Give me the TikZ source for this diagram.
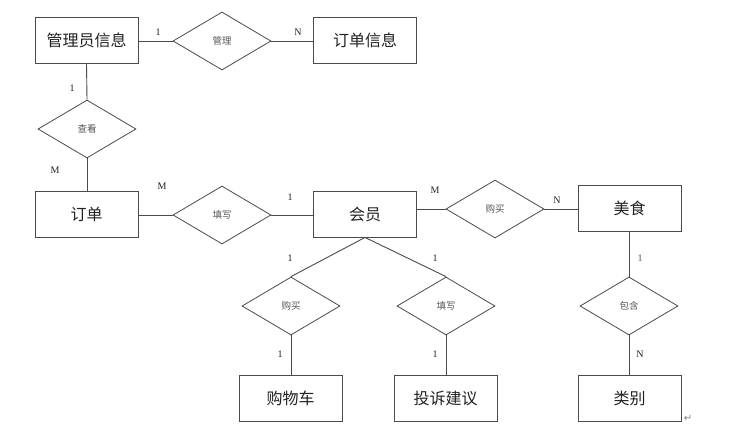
\documentclass[tikz,border=0pt]{standalone}
\usepackage{fontspec}
\setmainfont{Liberation Serif}
\newfontfamily\cjk{Noto Sans CJK SC}
\newfontfamily\symfont{DejaVu Sans}
\usetikzlibrary{shapes.geometric}
\definecolor{linec}{HTML}{4A4A4A}
\definecolor{txtc}{HTML}{222222}
\definecolor{reltxt}{HTML}{555555}
\begin{document}
\begin{tikzpicture}[x=1pt,y=-1pt,
  entity/.style={draw=linec, line width=0.9pt, minimum width=103pt, minimum height=46pt, inner sep=0pt, text=txtc, font=\cjk\fontsize{16}{16}\selectfont},
  rel/.style={draw=linec, line width=0.8pt, diamond, aspect=1.69, minimum width=98pt, minimum height=58pt, inner sep=0pt, text=reltxt, font=\cjk\fontsize{9.5}{10}\selectfont},
  card/.style={inner sep=0pt, text=txtc, font=\fontsize{10}{10}\selectfont},
  conn/.style={draw=linec, line width=0.9pt}]
\useasboundingbox (0,0) rectangle (737,437);
\fill[white] (0,0) rectangle (737,437);
% entities
\node[entity] (gly) at (86.5,40) {管理员信息};
\node[entity] (ddxx) at (365,40.5) {订单信息};
\node[entity] (dd) at (86.5,214) {订单};
\node[entity] (hy) at (365,214) {会员};
\node[entity] (ms) at (629.5,208.5) {美食};
\node[entity] (gwc) at (290.5,398) {购物车};
\node[entity] (ts) at (445.5,398) {投诉建议};
\node[entity] (lb) at (629.5,398) {类别};
% relationships
\node[rel] (gl) at (222,41) {管理};
\node[rel] (ck) at (87,129) {查看};
\node[rel] (tx) at (222,215) {填写};
\node[rel] (gm) at (495,209) {购买};
\node[rel] (bh) at (629,306) {包含};
\node[rel] (gm2) at (291,306) {购买};
\node[rel] (tx2) at (446,306) {填写};
% connectors
\draw[conn] (gly.east |- gl.west) -- (gl.west);
\draw[conn] (gl.east) -- (gl.east -| ddxx.west);
\draw[conn] (gly.south) -- (ck.north);
\draw[conn] (ck.south) -- (ck.south |- dd.north);
\draw[conn] (dd.east |- tx.west) -- (tx.west);
\draw[conn] (tx.east) -- (tx.east -| hy.west);
\draw[conn] (gm.west -| hy.east) -- (gm.west);
\draw[conn] (gm.east) -- (gm.east -| ms.west);
\draw[conn] (bh.north |- ms.south) -- (bh.north);
\draw[conn] (bh.south) -- (bh.south |- lb.north);
\draw[conn] (hy.south) -- (gm2.north);
\draw[conn] (hy.south) -- (tx2.north);
\draw[conn] (gm2.south) -- (gm2.south |- gwc.north);
\draw[conn] (tx2.south) -- (tx2.south |- ts.north);
% cardinalities
\node[card] (c1) at (158,32) {1};
\node[card] (c2) at (298,32) {N};
\node[card] (c3) at (72,88) {1};
\node[card] (c4) at (55,170) {M};
\node[card] (c5) at (162,186) {M};
\node[card] (c6) at (290,197) {1};
\node[card] (c7) at (435,190) {M};
\node[card] (c8) at (557,200) {N};
\node[card] (c9) at (290,258) {1};
\node[card] (c10) at (435,258) {1};
\node[card] (c11) at (280,354) {1};
\node[card] (c12) at (435,354) {1};
\node[card, text=reltxt] (c13) at (640,258) {1};
\node[card] (c14) at (640,354) {N};
\node[inner sep=0pt, text=gray, font=\symfont\fontsize{10}{10}\selectfont] (ret) at (688,418) {↵};
\end{tikzpicture}
\end{document}
